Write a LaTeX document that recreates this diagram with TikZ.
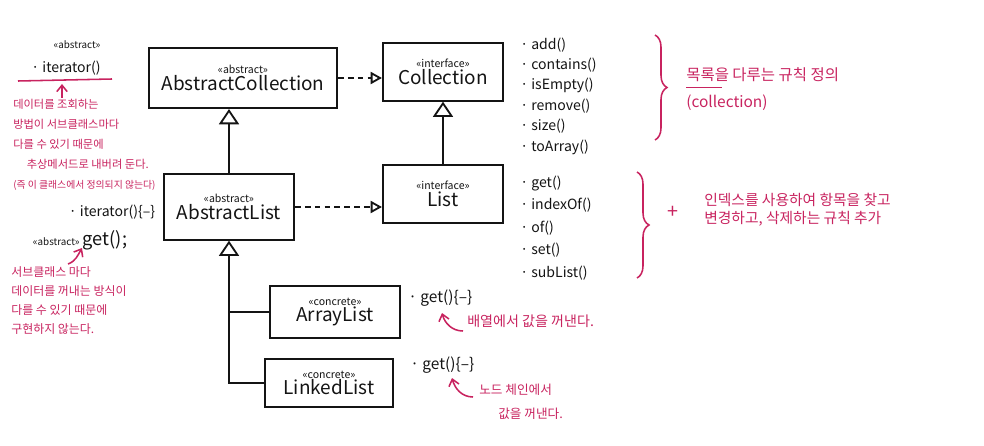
\documentclass[tikz,border=0pt]{standalone}
\usepackage{fontspec}
\setmainfont{Noto Sans CJK KR}
\usetikzlibrary{arrows.meta, positioning, calc, decorations.pathreplacing}
\definecolor{Marker}{HTML}{C8235F}
\definecolor{Ink}{HTML}{141414}
\newcommand{\umlcls}[2]{{\fontsize{7.5}{9}\selectfont «#1»}\\{\fontsize{13.5}{16}\selectfont #2}}

\begin{document}
\begin{tikzpicture}[
    x=0.025cm, y=-0.025cm,
    umlbox/.style={draw=Ink, line width=1.5pt, align=center, inner sep=2pt, text=Ink},
    inherit/.style={-{Triangle[open, length=0.38cm, width=0.5cm]}, line width=1.3pt, Ink},
    realize/.style={-{Triangle[open, length=0.28cm, width=0.3cm]}, line width=1.3pt, Ink,
        dash pattern=on 4pt off 3pt},
    methods/.style={align=left, anchor=west, text=Ink, inner sep=0pt},
    memo/.style={align=left, text=Marker, inner sep=0pt},
    memoarr/.style={-{Straight Barb[length=1.6mm, width=2.6mm]}, Marker, line width=1.1pt},
    bracer/.style={Marker, line width=1.1pt, decorate, decoration={brace, amplitude=0.3cm}},
    every node/.style={font=\fontsize{10}{12}\selectfont}
]
\useasboundingbox (0,0) rectangle (984,446);

% classes
\node[umlbox, minimum width=4.7cm, minimum height=1.5cm] (abscoll) at (243,78) {\umlcls{abstract}{AbstractCollection}};
\node[umlbox, minimum width=3.0cm, minimum height=1.43cm] (coll) at (443,72) {\umlcls{interface}{Collection}};
\node[umlbox, minimum width=3.25cm, minimum height=1.63cm] (abslist) at (229,207) {\umlcls{abstract}{AbstractList}};
\node[umlbox, minimum width=3.0cm, minimum height=1.45cm] (list) at (443,194) {\umlcls{interface}{List}};
\node[umlbox, minimum width=3.25cm, minimum height=1.28cm] (arrlist) at (335,312) {\umlcls{concrete}{ArrayList}};
\node[umlbox, minimum width=3.2cm, minimum height=1.18cm] (lnklist) at (329,383) {\umlcls{concrete}{LinkedList}};

\draw[realize] (abscoll.east) -- (abscoll.east -| coll.west);
\draw[realize] (abslist.east) -- (abslist.east -| list.west);
\draw[inherit] (abslist.north) -- (abslist.north |- abscoll.south);
\draw[inherit] (list.north) -- (coll.south);
\draw[inherit] (lnklist.west) -| (abslist.south);
\draw[line width=1.3pt, Ink] (arrlist.west) -- (arrlist.west -| abslist.south);

% methods
\node[methods, font=\fontsize{10}{14.5}\selectfont] (collops) at (520,96)
    {· add()\\· contains()\\· isEmpty()\\· remove()\\· size()\\· toArray()};
\node[methods, font=\fontsize{10}{16}\selectfont] (listops) at (520,228)
    {· get()\\· indexOf()\\· of()\\· set()\\· subList()};
\node[methods, font=\fontsize{11}{13}\selectfont] (arrget) at (408,298) {· get()\{–\}};
\node[methods, font=\fontsize{11}{13}\selectfont] (lnkget) at (410,365) {· get()\{–\}};

\coordinate (collbrT) at (655,35);
\coordinate (collbrB) at (655,140);
\coordinate (listbrT) at (637,172);
\coordinate (listbrB) at (637,278);
\draw[bracer] (collbrT) -- (collbrB);
\draw[bracer] (listbrT) -- (listbrB);

\node[memo, anchor=west, font=\fontsize{11}{19}\selectfont] (collnote) at (686,89)
    {목록을 다루는 규칙 정의\\(collection)};
\draw[Marker, line width=1.1pt] ($(collnote.north west)+(0,20)$) -- ++(36,0);
\node[memo, font=\fontsize{14}{16}\selectfont] (plus) at (673,212) {+};
\node[memo, anchor=west, font=\fontsize{10.5}{13}\selectfont] (listnote) at (704,210)
    {인덱스를 사용하여 항목을 찾고\\변경하고, 삭제하는 규칙 추가};

% left side
\node[text=Ink, font=\fontsize{7}{9}\selectfont] (itstereo) at (77,45) {«abstract»};
\node[text=Ink, font=\fontsize{10}{12}\selectfont] (itop) at (66,68) {· iterator()};
\coordinate (itlineL) at (18,81);
\coordinate (itlineR) at (112,79);
\draw[Marker, line width=1.1pt] (itlineL) -- (itlineR);
\node[memo, anchor=north west, font=\fontsize{8}{14.2}\selectfont] (note1) at (13,99)
    {데이터를 조회하는\\방법이 서브클래스마다\\다를 수 있기 때문에\\\hspace*{1.2em}추상메서드로 내버려 둔다.\\{\fontsize{7}{9}\selectfont(즉 이 클래스에서 정의되지 않는다)}};
\coordinate (ittip) at (62,84);
\draw[memoarr] ($(note1.north west)+(49,-1)$) -- (ittip);

\node[text=Ink, font=\fontsize{10}{12}\selectfont] (itimpl) at (112,212) {· iterator()\{–\}};
\node[text=Ink] (absget) at (80,240) {{\fontsize{7}{9}\selectfont «abstract»} {\fontsize{13}{15}\selectfont get();}};
\node[memo, anchor=north west, font=\fontsize{8.5}{13.5}\selectfont] (note2) at (11,266)
    {서브클래스 마다\\데이터를 꺼내는 방식이\\다를 수 있기 때문에\\구현하지 않는다.};
\coordinate (gettip) at (82,248);
\draw[memoarr] ($(note2.north west)+(57,-2)$) to[out=20, in=-120] (gettip);

% notes on get()
\node[memo, anchor=west, font=\fontsize{10}{12}\selectfont] (arrnote) at (467,321) {배열에서 값을 꺼낸다.};
\coordinate (arrtip) at (442,313);
\draw[memoarr] ($(arrnote.west)+(-4,10)$) to[out=180, in=-75] (arrtip);
\node[memo, anchor=north west, font=\fontsize{9}{17}\selectfont] (lnknote) at (479,384)
    {노드 체인에서\\\hspace*{1.5em}값을 꺼낸다.};
\coordinate (lnktip) at (452,378);
\draw[memoarr] ($(lnknote.north west)+(-6,13)$) to[out=180, in=-75] (lnktip);

\end{tikzpicture}
\end{document}
